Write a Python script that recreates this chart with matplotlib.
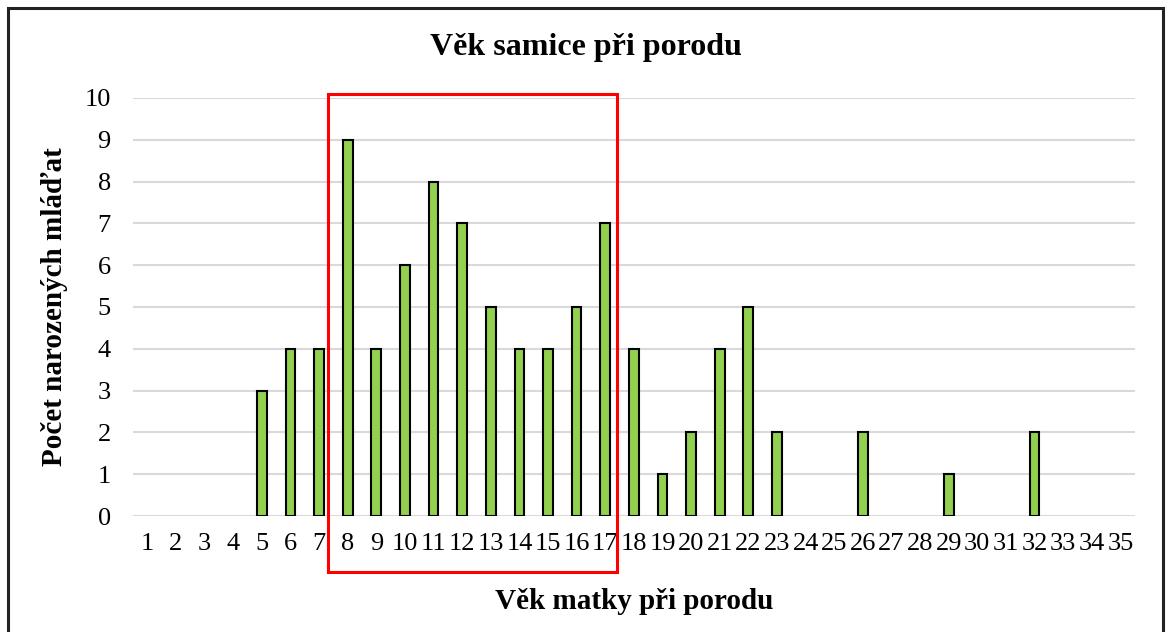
import matplotlib.pyplot as plt
from matplotlib.patches import Rectangle

plt.rcParams["font.family"] = ["Liberation Serif", "DejaVu Serif"]

# age of mother at birth and number of born young
ages = list(range(1, 36))
counts = [0, 0, 0, 0, 3, 4, 4, 9, 4, 6, 8, 7, 5, 4, 4, 5, 7,
          4, 1, 2, 4, 5, 2, 0, 0, 2, 0, 0, 1, 0, 0, 2, 0, 0, 0]
highlight = (8, 17)

fig = plt.figure(figsize=(11.71, 6.32), dpi=100)
ax = fig.add_axes([0.1136, 0.1835, 0.8554, 0.6615])

# zero counts get no bar at all
bar_x = [a for a, c in zip(ages, counts) if c > 0]
bar_h = [c for c in counts if c > 0]
ax.bar(bar_x, bar_h, width=0.34, color="#92D050", edgecolor="black",
       linewidth=1.5, zorder=3)

ax.set_xlim(0.5, 35.5)
ax.set_ylim(0, 10)
ax.set_xticks(ages)
ax.set_xticklabels([str(a) for a in ages])
ax.set_yticks(range(0, 11))
ax.tick_params(axis="both", length=0, labelsize=19)
ax.tick_params(axis="y", pad=16)
ax.tick_params(axis="x", pad=12)
ax.grid(axis="y", color="#D9D9D9", linewidth=1.5, zorder=0)
for s in ax.spines.values():
    s.set_visible(False)

fig.text(0.5, 1 - 47 / 632, "Věk samice při porodu", fontsize=23,
         fontweight="bold", ha="center", va="center")
ax.set_xlabel("Věk matky při porodu", fontsize=21, fontweight="bold", labelpad=24)
ax.set_ylabel("Počet narozených mláďat", fontsize=21, fontweight="bold", labelpad=12)

# red box around the peak ages
ax.add_patch(Rectangle((highlight[0] - 0.69, -1.34), highlight[1] - highlight[0] + 1.1,
                       11.44, fill=False, edgecolor="red", linewidth=2.2,
                       clip_on=False, zorder=4))

# frame around the whole chart
fig.patches.append(Rectangle((8 / 1171, -0.1), 1155 / 1171, 1.1 - 8 / 632,
                             transform=fig.transFigure, fill=False,
                             edgecolor="#222222", linewidth=2.2))

fig.savefig("out.png", dpi=100)
